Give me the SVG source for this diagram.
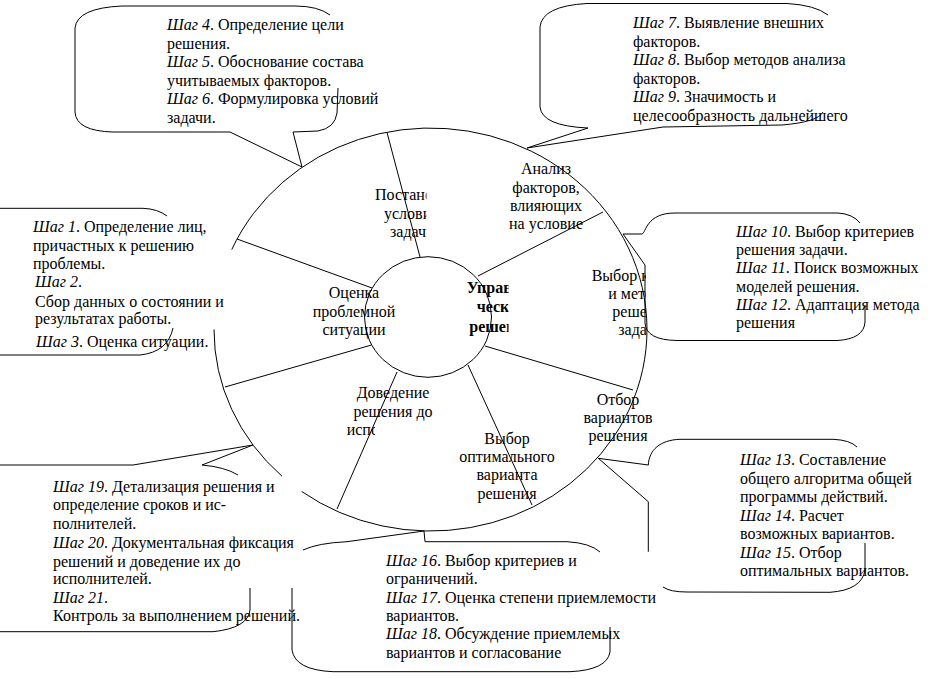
<svg xmlns="http://www.w3.org/2000/svg" width="942" height="679" viewBox="0 0 942 679">
<style>
.ln{fill:none;stroke:#000;stroke-width:1}
.t{font-family:"Liberation Serif","Times New Roman",serif;font-size:16px;fill:#000}
.c{text-anchor:middle}
.i{font-style:italic}
.b{font-weight:bold}
</style>
<defs>
<clipPath id="cpPost"><rect x="300" y="180" width="126.5" height="70"/></clipPath>
<clipPath id="cpVyb"><rect x="560" y="262" width="86" height="85"/></clipPath>
<clipPath id="cpIsp"><rect x="330" y="420" width="45" height="25"/></clipPath>
<clipPath id="cpUpr"><rect x="440" y="275" width="68.5" height="65"/></clipPath>
</defs>
<rect width="942" height="679" fill="#fff"/>

<g id="ring">
<path class="ln" d="M231.8,249.5 A216.5,201.5 0 1 1 301.7,491.5"/>
<path class="ln" d="M282,476.2 A216.5,201.5 0 0 1 214,329.5"/>
</g>
<g id="center-node">
<ellipse class="ln" cx="428" cy="317" rx="63.5" ry="60.3"/>
<g clip-path="url(#cpUpr)">
<text class="t b" x="466.7" y="293">Управл</text>
<text class="t b" x="476.7" y="311.5">ческо</text>
<text class="t b" x="469.3" y="331.5">решен</text>
</g>
</g>

<g id="connectors">
<line class="ln" x1="237" y1="239" x2="372" y2="288"/>
<line class="ln" x1="387" y1="132.5" x2="420" y2="257"/>
<line class="ln" x1="478" y1="276" x2="603" y2="212"/>
<line class="ln" x1="485" y1="346" x2="633" y2="390"/>
<line class="ln" x1="468" y1="365" x2="532" y2="505"/>
<line class="ln" x1="397" y1="372" x2="337" y2="509"/>
<line class="ln" x1="371.5" y1="345" x2="225" y2="387"/>
</g>

<g id="sector-otsenka">
<text class="t c" x="354" y="298">Оценка</text>
<text class="t c" x="354" y="316.5">проблемной</text>
<text class="t c" x="354" y="335">ситуации</text>
</g>
<g id="sector-postanovka" clip-path="url(#cpPost)">
<text class="t" x="375" y="200">Постано</text>
<text class="t" x="384" y="218.5">услови</text>
<text class="t" x="390" y="237">задачи</text>
</g>
<g id="sector-analiz">
<text class="t c" x="546" y="174">Анализ</text>
<text class="t c" x="546" y="192.5">факторов,</text>
<text class="t c" x="546" y="211">влияющих</text>
<text class="t c" x="546" y="229">на условие</text>
</g>
<g id="sector-vybor-metodov" clip-path="url(#cpVyb)">
<text class="t" x="591.7" y="280.5">Выбор к</text>
<text class="t" x="608.3" y="298.5">и мето</text>
<text class="t" x="612.3" y="317">решен</text>
<text class="t" x="618.3" y="335">задач</text>
</g>
<g id="sector-otbor">
<text class="t c" x="618" y="405">Отбор</text>
<text class="t c" x="618" y="423">вариантов</text>
<text class="t c" x="618" y="441">решения</text>
</g>
<g id="sector-optimal">
<text class="t c" x="507" y="443.5">Выбор</text>
<text class="t c" x="507" y="462">оптимального</text>
<text class="t c" x="507" y="480">варианта</text>
<text class="t c" x="507" y="498.5">решения</text>
</g>
<g id="sector-dovedenie">
<text class="t c" x="393" y="398">Доведение</text>
<text class="t c" x="393" y="416.5">решения до</text>
<text class="t" x="346.7" y="435" clip-path="url(#cpIsp)">испо</text>
</g>

<g id="callout-4-6">
<path class="ln" d="M330,15 Q318,6 295,6 L122,6 Q77,8 75,28 L75,112 Q76,131 113,132 L230,132 L302,167 L293,132 L318,131 Q335,128 337,113 L338,88"/>
<text class="t" x="167" y="30"><tspan class="i">Шаг 4</tspan>. Определение цели</text>
<text class="t" x="167" y="48.5">решения.</text>
<text class="t" x="167" y="67"><tspan class="i">Шаг 5</tspan>. Обоснование состава</text>
<text class="t" x="167" y="85.5">учитываемых факторов.</text>
<text class="t" x="167" y="104"><tspan class="i">Шаг 6</tspan>. Формулировка условий</text>
<text class="t" x="167" y="122.5">задачи.</text>
</g>

<g id="callout-7-9">
<path class="ln" d="M828,15 Q815,5 787,3.5 L587,3.5 Q542,6 540,27 L540,107 Q542,126 588,128 L527,148 L663,127 L782,125 Q818,122 823,112"/>
<text class="t" x="633" y="28"><tspan class="i">Шаг 7</tspan>. Выявление внешних</text>
<text class="t" x="633" y="46.5">факторов.</text>
<text class="t" x="633" y="65"><tspan class="i">Шаг 8</tspan>. Выбор методов анализа</text>
<text class="t" x="633" y="83.5">факторов.</text>
<text class="t" x="633" y="102"><tspan class="i">Шаг 9</tspan>. Значимость и</text>
<text class="t" x="633" y="120.5">целесообразность дальнейшего</text>
</g>

<g id="callout-10-12">
<path class="ln" d="M865,305 L865,322 Q864,339 837,340.5 L677,340.5 Q646,340 645,323 L645,265 L623,234 L642,234 C646,233 646,213 675,213 L838,213 Q853,214 860,223"/>
<text class="t" x="736" y="237"><tspan class="i">Шаг 10</tspan>. Выбор критериев</text>
<text class="t" x="736" y="255.2">решения задачи.</text>
<text class="t" x="736" y="273.4"><tspan class="i">Шаг 11</tspan>. Поиск возможных</text>
<text class="t" x="736" y="291.6">моделей решения.</text>
<text class="t" x="736" y="309.8"><tspan class="i">Шаг 12</tspan>. Адаптация метода</text>
<text class="t" x="736" y="328">решения</text>
</g>

<g id="callout-1-3">
<path class="ln" d="M0,208.3 L143,208.3 Q158,209 167,216"/>
<path class="ln" d="M0,355 L140,355 Q168,352 173,328"/>
<text class="t" x="33" y="232"><tspan class="i">Шаг 1</tspan>. Определение лиц,</text>
<text class="t" x="33" y="250.5">причастных к решению</text>
<text class="t" x="33" y="268.5">проблемы.</text>
<text class="t" x="35" y="287"><tspan class="i">Шаг 2</tspan>.</text>
<text class="t" x="35" y="306.5">Сбор данных о состоянии и</text>
<text class="t" x="35" y="324">результатах работы.</text>
<text class="t" x="36" y="346.5"><tspan class="i">Шаг 3</tspan>. Оценка ситуации.</text>
</g>

<g id="callout-13-15">
<path class="ln" d="M857,447 Q850,440 833,439.3 L680,439.3 C660,440 649,450 648.3,465 L598.3,458.3 L648.3,501.7 L648.3,551.7"/>
<path class="ln" d="M663,587 Q670,592 687,592 L830,592.3 Q862,590 865,570 L865,543"/>
<text class="t" x="740" y="465"><tspan class="i">Шаг 13</tspan>. Составление</text>
<text class="t" x="740" y="483.5">общего алгоритма общей</text>
<text class="t" x="740" y="502">программы действий.</text>
<text class="t" x="740" y="520.5"><tspan class="i">Шаг 14</tspan>. Расчет</text>
<text class="t" x="740" y="539">возможных вариантов.</text>
<text class="t" x="740" y="557.5"><tspan class="i">Шаг 15</tspan>. Отбор</text>
<text class="t" x="740" y="576">оптимальных вариантов.</text>
</g>

<g id="callout-16-18">
<path class="ln" d="M303,550 Q318,543 347,541.7 L424,531 L425,541.7 L567,541.7 Q590,543 600,552"/>
<path class="ln" d="M292,588 L292,650 Q295,670 333,671.7 L570,671.7 Q607,670 610,652 L610,627"/>
<text class="t" x="386" y="566"><tspan class="i">Шаг 16</tspan>. Выбор критериев и</text>
<text class="t" x="386" y="584.3">ограничений.</text>
<text class="t" x="386" y="602.6"><tspan class="i">Шаг 17</tspan>. Оценка степени приемлемости</text>
<text class="t" x="386" y="620.9">вариантов.</text>
<text class="t" x="386" y="639.2"><tspan class="i">Шаг 18</tspan>. Обсуждение приемлемых</text>
<text class="t" x="386" y="657.5">вариантов и согласование</text>
</g>

<g id="callout-19-21">
<path class="ln" d="M0,465 L133,465 L253,445 L202,465 Q225,467 238,475"/>
<path class="ln" d="M250,588 L250,610 Q248,628 213,631.7 L0,631.7"/>
<text class="t" x="53" y="492"><tspan class="i">Шаг 19</tspan>. Детализация решения и</text>
<text class="t" x="53" y="510">определение сроков и ис-</text>
<text class="t" x="53" y="528.5">полнителей.</text>
<text class="t" x="53" y="548"><tspan class="i">Шаг 20</tspan>. Документальная фиксация</text>
<text class="t" x="53" y="566.5">решений и доведение их до</text>
<text class="t" x="53" y="584">исполнителей.</text>
<text class="t" x="53" y="603"><tspan class="i">Шаг 21</tspan>.</text>
<text class="t" x="53" y="620.5">Контроль за выполнением решений.</text>
</g>
</svg>
